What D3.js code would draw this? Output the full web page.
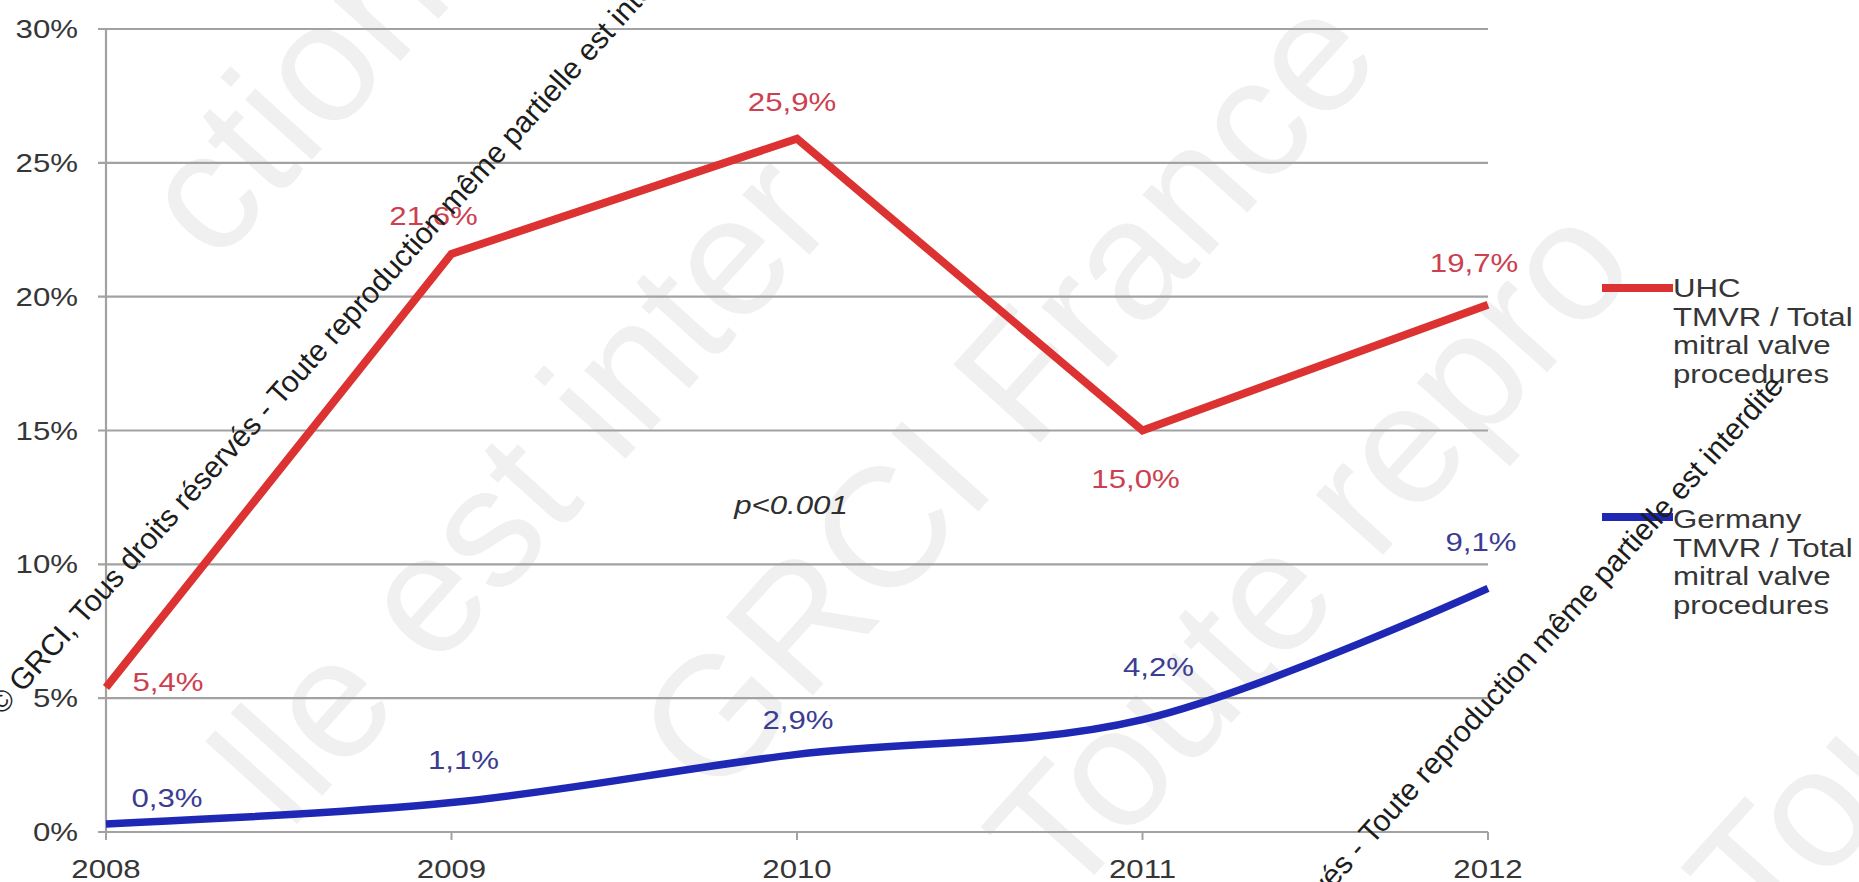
<!DOCTYPE html>
<html>
<head>
<meta charset="utf-8">
<script src="https://cdn.jsdelivr.net/npm/d3@7/dist/d3.min.js"></script>
<style>
  body { margin: 0; background: #ffffff; }
  svg { display: block; }
  text { font-family: "Liberation Sans", Arial, Helvetica, sans-serif; }
</style>
</head>
<body>
<svg id="chart" width="1859" height="882"></svg>
<script>
// ---- data ----
const years = [2008, 2009, 2010, 2011, 2012];
const uhcValues = [5.4, 21.6, 25.9, 15.0, 19.7];
const germanyValues = [0.3, 1.1, 2.9, 4.2, 9.1];
const yTickValues = [0, 5, 10, 15, 20, 25, 30];
const uhcLegend = ["UHC", "TMVR / Total", "mitral valve", "procedures"];
const germanyLegend = ["Germany", "TMVR / Total", "mitral valve", "procedures"];
const pValueNote = "p<0.001";
const copyrightNotice = "© GRCI, Tous droits réservés - Toute reproduction même partielle est interdite";

// ---- label placement (offset of each value label from its point) ----
const uhcLabelOffsets = [[62, -6], [-18, -38], [-5, -37], [-7, 48], [-14, -42]];
const germanyLabelOffsets = [[61, -26], [12, -43], [1, -34], [16, -53], [-7, -47]];

// ---- layout ----
const FONT = 26, STRETCH = 1.2;
const RED = "#dc3232", BLUE = "#1e28b4";
const RED_LABEL = "#cc4050", BLUE_LABEL = "#3c3c92", INK = "#363636";

const svg = d3.select("#chart");

const x = d3.scalePoint().domain(years).range([106, 1488]);
const y = d3.scaleLinear().domain([0, 30]).range([832, 29]);

const pctLabel = v => d3.format(".1f")(v).replace(".", ",") + "%";

// horizontally widened text, as in the original slide
function wideText(g, tx, ty, str, opts = {}) {
  return g.append("text")
    .attr("transform", `translate(${tx},${ty}) scale(${STRETCH},1)`)
    .attr("text-anchor", opts.anchor || "start")
    .attr("dy", opts.dy || null)
    .attr("font-size", opts.size || FONT)
    .attr("font-style", opts.italic ? "italic" : null)
    .attr("fill", opts.fill || INK)
    .text(str);
}

// ---- faint background lettering (diagonal) ----
const FAINT_SIZE = 170, FAINT_ANGLE = -48;
const rad = FAINT_ANGLE * Math.PI / 180;
const faint = svg.append("g").attr("fill", "#f0f0f0").attr("font-size", FAINT_SIZE);
// cx, cy: centre of a reference letter; lead: distance (in em) from text start to that centre
const faintWords = [
  { text: "ction m", cx: 200, cy: 195, lead: 0.25 },
  { text: "lle est inter", cx: 422, cy: 596, lead: 1.556 },
  { text: "GRCI France", cx: 715, cy: 715, lead: 0.389 },
  { text: "Toute repro", cx: 1055, cy: 830, lead: 0.3 },
  { text: "Tous", cx: 1755, cy: 871, lead: 0.3 }
];
faintWords.forEach(w => {
  const back = w.lead * FAINT_SIZE;
  const sx = w.cx - back * Math.cos(rad);
  const sy = w.cy - back * Math.sin(rad);
  faint.append("text")
    .attr("transform", `translate(${sx},${sy}) rotate(${FAINT_ANGLE})`)
    .attr("dy", "0.35em")
    .text(w.text);
});

// ---- grid and axes ----
const grid = svg.append("g");
grid.selectAll("line.grid")
  .data(yTickValues)
  .join("line")
  .attr("class", "grid")
  .attr("x1", 98).attr("x2", x(2012))
  .attr("y1", d => y(d)).attr("y2", d => y(d))
  .attr("stroke", "#a2a2a2").attr("stroke-width", 2.2);

grid.append("line")
  .attr("x1", x(2008)).attr("x2", x(2008))
  .attr("y1", y(30)).attr("y2", y(0))
  .attr("stroke", "#a2a2a2").attr("stroke-width", 2.2);

grid.selectAll("line.xtick")
  .data(years)
  .join("line")
  .attr("class", "xtick")
  .attr("x1", d => x(d)).attr("x2", d => x(d))
  .attr("y1", y(0)).attr("y2", y(0) + 8)
  .attr("stroke", "#a2a2a2").attr("stroke-width", 2);

const axisText = svg.append("g");
yTickValues.forEach(v => wideText(axisText, 78, y(v), v + "%", { anchor: "end", dy: "0.35em" }));
years.forEach(yr => wideText(axisText, x(yr), 878, String(yr), { anchor: "middle" }));

// ---- series lines ----
const redLine = d3.line()
  .x((d, i) => x(years[i]))
  .y(d => y(d));
const blueLine = d3.line()
  .x((d, i) => x(years[i]))
  .y(d => y(d))
  .curve(d3.curveCatmullRom.alpha(0.5));

svg.append("path")
  .datum(uhcValues)
  .attr("d", redLine)
  .attr("fill", "none")
  .attr("stroke", RED)
  .attr("stroke-width", 8)
  .attr("stroke-linejoin", "miter");

svg.append("path")
  .datum(germanyValues)
  .attr("d", blueLine)
  .attr("fill", "none")
  .attr("stroke", BLUE)
  .attr("stroke-width", 7.5)
  .attr("stroke-linejoin", "round");

// ---- value labels ----
const labels = svg.append("g");
uhcValues.forEach((v, i) => {
  const [dx, dy] = uhcLabelOffsets[i];
  wideText(labels, x(years[i]) + dx, y(v) + dy, pctLabel(v), { anchor: "middle", dy: "0.35em", fill: RED_LABEL });
});
germanyValues.forEach((v, i) => {
  const [dx, dy] = germanyLabelOffsets[i];
  wideText(labels, x(years[i]) + dx, y(v) + dy, pctLabel(v), { anchor: "middle", dy: "0.35em", fill: BLUE_LABEL });
});

wideText(labels, 791, 505, pValueNote, { anchor: "middle", dy: "0.35em", italic: true, fill: "#2e2e2e" });

// ---- legend ----
const legend = svg.append("g");
[[uhcLegend, RED, 288, 297], [germanyLegend, BLUE, 517, 528]].forEach(([lines, color, ly, base]) => {
  legend.append("line")
    .attr("x1", 1602).attr("x2", 1673)
    .attr("y1", ly).attr("y2", ly)
    .attr("stroke", color).attr("stroke-width", 8);
  lines.forEach((t, i) => wideText(legend, 1673, base + i * 28.5, t));
});

// ---- copyright stamp ----
const stamp = svg.append("g").attr("fill", "#1c1c1c").attr("font-size", 30);
stamp.append("text")
  .attr("transform", "translate(2,716) rotate(-48)")
  .attr("text-anchor", "start")
  .text(copyrightNotice);
stamp.append("text")
  .attr("transform", "translate(1785,387) rotate(-48)")
  .attr("text-anchor", "end")
  .text(copyrightNotice);
</script>
</body>
</html>
